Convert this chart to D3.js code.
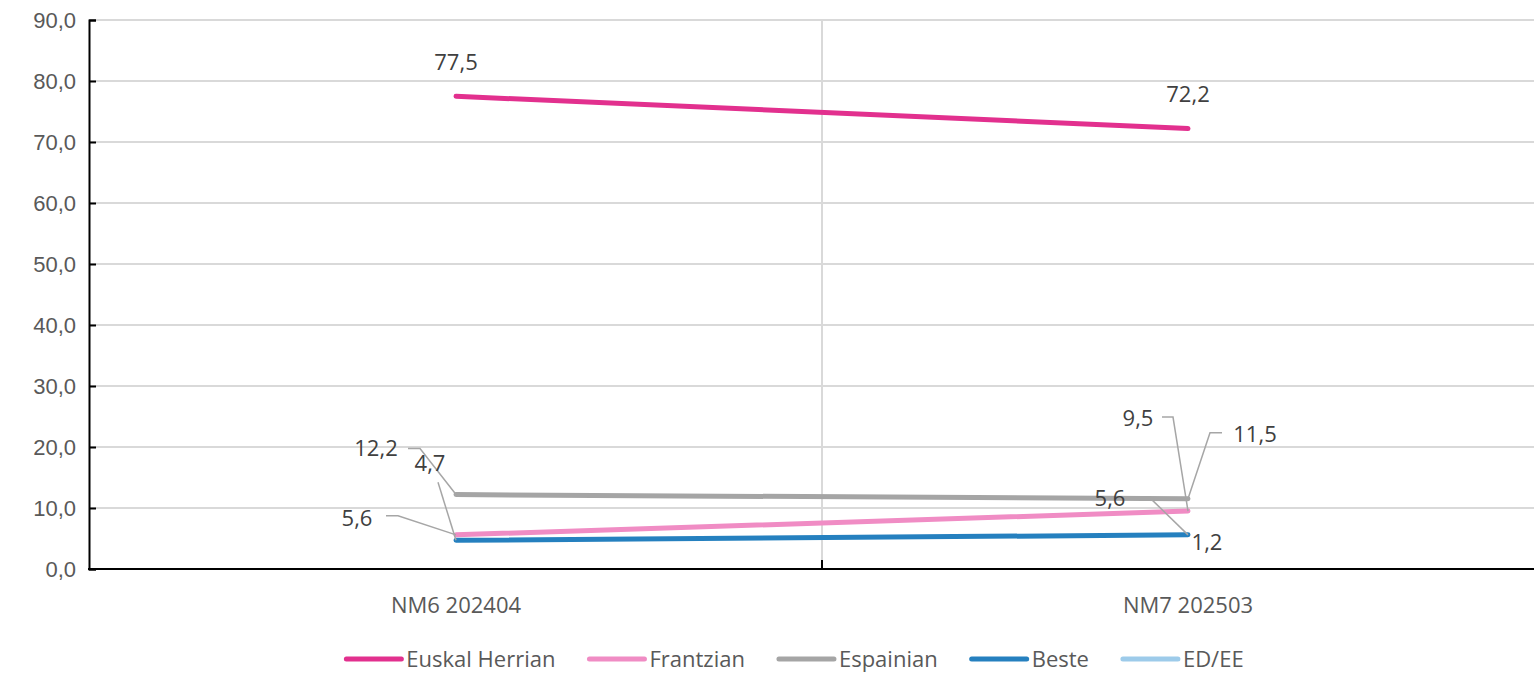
<!DOCTYPE html>
<html>
<head>
  <meta charset="utf-8">
  <script src="https://cdn.jsdelivr.net/npm/d3@7"></script>
  <style type="text/css">
    body {
      margin: 0;
      background: #fff;
      font-family: "Open Sans", "Noto Sans", sans-serif;
    }
    .tick-label { fill: #595959; font-size: 22px; }
    .data-label { fill: #404040; font-size: 22px; }
    .legend text { fill: #595959; font-size: 22px; }
  </style>
</head>
<body>
  <script type="text/javascript">

  // Data
  const categories = ['NM6 202404', 'NM7 202503'];
  const seriesNames = ['Euskal Herrian', 'Frantzian', 'Espainian', 'Beste', 'ED/EE'];
  const euskalHerrian = [77.5, 72.2];
  const frantzian = [5.6, 9.5];
  const espainian = [12.2, 11.5];
  const beste = [4.7, 5.6];
  const edee = [null, 1.2];
  const yTicks = [0, 10, 20, 30, 40, 50, 60, 70, 80, 90];

  const colors = ['#e2308e', '#f08cc4', '#a5a5a5', '#2580bf', '#9dcbea'];
  const series = [euskalHerrian, frantzian, espainian, beste, edee].map((values, i) => ({
    name: seriesNames[i], values: values, color: colors[i]
  }));

  // label placement: offsets of text centre and leader line from the point
  const labelLayout = [
    {s: 0, i: 0, dx: 0,   dy: -34, leader: []},
    {s: 0, i: 1, dx: 0,   dy: -34, leader: []},
    {s: 2, i: 0, dx: -80, dy: -46, leader: [[-48, -46], [-36, -46]]},
    {s: 3, i: 0, dx: -26, dy: -77, leader: [[-18, -58]]},
    {s: 1, i: 0, dx: -99, dy: -17, leader: [[-70, -19], [-58, -19]]},
    {s: 1, i: 1, dx: -50, dy: -93, leader: [[-26, -94], [-15, -94]]},
    {s: 2, i: 1, dx: 67,  dy: -65, leader: [[34, -66], [22, -66]]},
    {s: 3, i: 1, dx: -78, dy: -37, leader: [[-36, -35]]},
    {s: 4, i: 1, dx: 19,  dy: -19, leader: []}
  ];

  const fmt = (d) => d.toFixed(1).replace('.', ',');

  const W = 1534, H = 673;
  const margin = {top: 20, left: 90, bottom: 104};
  const plotW = 1464;
  const plotBottom = H - margin.bottom;

  const svg = d3.select('body').append('svg')
    .attr('width', W).attr('height', H);

  const xscale = d3.scaleBand().domain(categories).range([margin.left, margin.left + plotW]);
  const xmid = (c) => xscale(c) + xscale.bandwidth() / 2;
  const yscale = d3.scaleLinear().domain([0, 90]).range([plotBottom, margin.top]);

  // horizontal gridlines
  svg.append('g').selectAll('line').data(yTicks.filter(d => d > 0)).enter().append('line')
    .attr('x1', margin.left).attr('x2', margin.left + plotW)
    .attr('y1', d => yscale(d)).attr('y2', d => yscale(d))
    .attr('stroke', '#d9d9d9').attr('stroke-width', 2);

  // vertical gridlines between categories
  const bounds = categories.slice(1).map(c => xscale(c));
  svg.append('g').selectAll('line').data(bounds).enter().append('line')
    .attr('x1', d => d).attr('x2', d => d)
    .attr('y1', margin.top).attr('y2', plotBottom)
    .attr('stroke', '#d9d9d9').attr('stroke-width', 2);

  // y axis
  const yaxis = d3.axisLeft(yscale).tickValues(yTicks).tickSize(-7).tickFormat(fmt).tickPadding(13);
  const gy = svg.append('g').attr('transform', `translate(${margin.left - 1},0)`).call(yaxis);
  gy.select('.domain').attr('stroke', '#000').attr('stroke-width', 2);
  gy.selectAll('.tick line').attr('stroke', '#000').attr('stroke-width', 2);
  gy.selectAll('.tick text').attr('class', 'tick-label').attr('font-family', null).attr('font-size', null);

  // x axis
  const gx = svg.append('g');
  gx.append('line')
    .attr('x1', margin.left - 2).attr('x2', margin.left + plotW)
    .attr('y1', plotBottom).attr('y2', plotBottom)
    .attr('stroke', '#000').attr('stroke-width', 2);
  gx.selectAll('.xtick').data(bounds).enter().append('line')
    .attr('x1', d => d).attr('x2', d => d)
    .attr('y1', plotBottom).attr('y2', plotBottom - 9)
    .attr('stroke', '#000').attr('stroke-width', 2);
  gx.selectAll('text').data(categories).enter().append('text')
    .attr('class', 'tick-label')
    .attr('x', d => xmid(d)).attr('y', plotBottom + 44)
    .attr('text-anchor', 'middle')
    .text(d => d);

  // lines
  const line = d3.line()
    .defined(d => d != null)
    .x((d, i) => xmid(categories[i]))
    .y(d => yscale(d));

  svg.append('g').selectAll('path')
    .data(series.filter(s => s.values.filter(v => v != null).length > 1))
    .enter().append('path')
    .attr('d', s => line(s.values))
    .attr('fill', 'none')
    .attr('stroke', s => s.color)
    .attr('stroke-width', 5)
    .attr('stroke-linecap', 'round');

  // data labels with leader lines
  const gl = svg.append('g');
  labelLayout.forEach(l => {
    const v = series[l.s].values[l.i];
    const px = xmid(categories[l.i]), py = yscale(v);
    if (l.leader.length) {
      const pts = l.leader.map(p => [px + p[0], py + p[1]]).concat([[px, py]]);
      gl.append('path')
        .attr('d', d3.line()(pts))
        .attr('fill', 'none').attr('stroke', '#a6a6a6').attr('stroke-width', 1.5);
    }
    gl.append('text')
      .attr('class', 'data-label')
      .attr('x', px + l.dx).attr('y', py + l.dy)
      .attr('dy', '0.35em')
      .attr('text-anchor', 'middle')
      .text(fmt(v));
  });

  // legend
  const legend = svg.append('g').attr('class', 'legend');
  const items = legend.selectAll('g').data(series).enter().append('g');
  items.append('line')
    .attr('x1', 0).attr('x2', 55).attr('y1', 0).attr('y2', 0)
    .attr('stroke', d => d.color).attr('stroke-width', 5).attr('stroke-linecap', 'round');
  items.append('text')
    .attr('x', 60).attr('dy', '0.35em')
    .text(d => d.name);
  let xpos = 0;
  items.each(function() {
    const g = d3.select(this);
    g.attr('transform', `translate(${xpos},0)`);
    xpos += 60 + g.select('text').node().getComputedTextLength() + 34;
  });
  const legendW = xpos - 34;
  legend.attr('transform', `translate(${795 - legendW / 2},659)`);

  </script>
</body>
</html>
